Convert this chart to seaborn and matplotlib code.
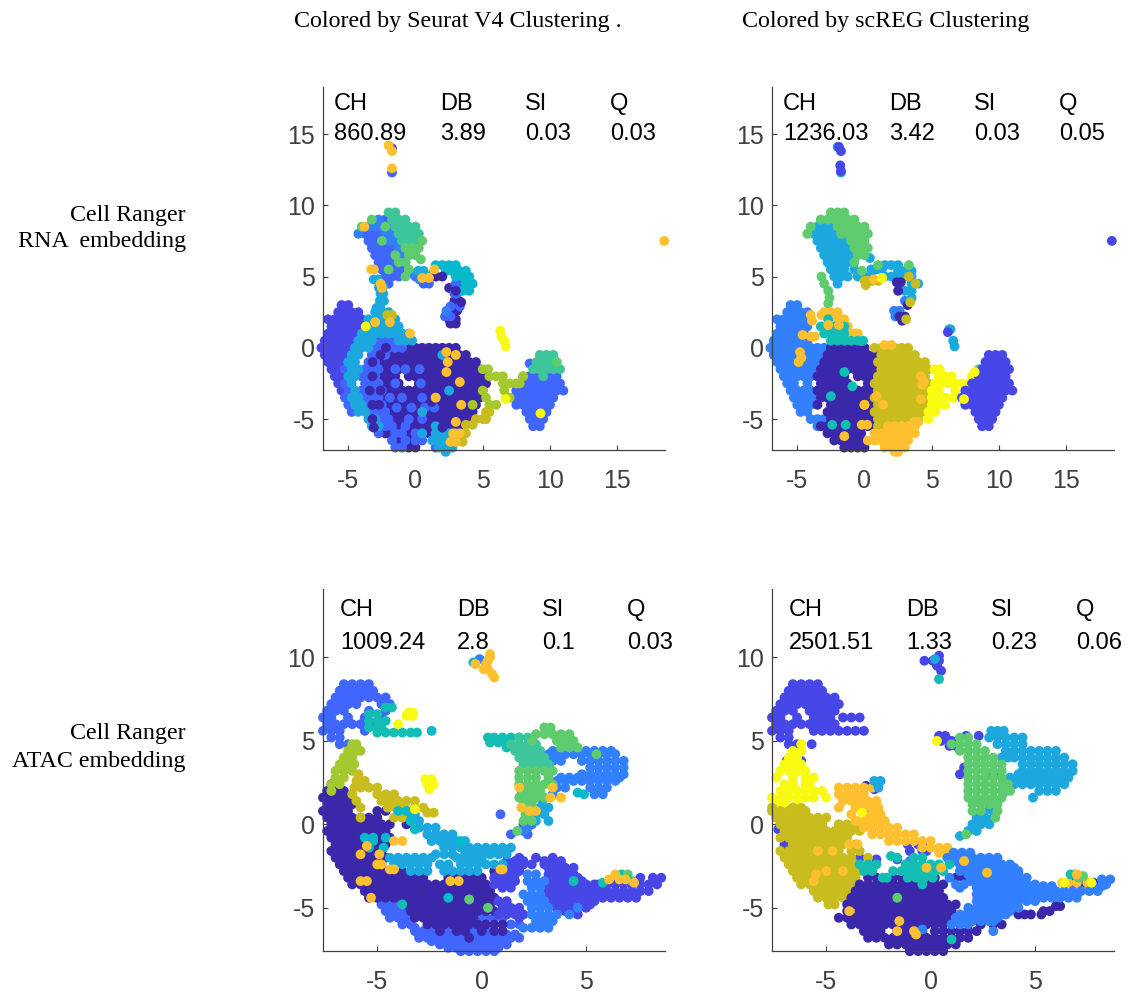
#scatter panels of the four embeddings, clusters
import pandas as pd
import matplotlib
matplotlib.use("Agg")
import matplotlib.pyplot as plt
import seaborn as sns

colors = {"dark": "#3B27A9", "violet": "#4747E8", "blue": "#4066FF", "azure": "#3380FF",
          "sky": "#1CA8DF", "cyan": "#05B9CA", "teal": "#12BDB4", "mint": "#3CC69A",
          "green": "#5FCB6F", "lime": "#A4C92E", "olive": "#C8BC1E", "orange": "#FEC02E",
          "yellow": "#F8FA0F"}

# ---------- RNA embedding, Seurat clusters, rows of (y, [x, ...])
p1_violet = [(3, [-5.5, -5]), (2.5, [-5.75, -5.25, -4.75, -4.25]), (2, [-6.5, -6, -5.5, -5, -4.5, -4]),
             (1.5, [-6.25, -5.75, -5.25, -4.75, -4.25, -3.75]), (1, [-6.5, -6, -5.5, -5, -4.5]),
             (.5, [-6.75, -6.25, -5.75, -5.25, -4.75]), (0, [-7, -6.5, -6, -5.5, -5]),
             (-.5, [-6.75, -6.25, -5.75, -5.25]), (-1, [-6.5, -6, -5.5]), (-1.5, [-6.25, -5.75]),
             (-2, [-6, -5.5]), (-2.5, [-5.75, -5.25]), (-3, [-5.5]), (14, [-1.75])]
p1_dark = [(0, [-.5, 0, .5, 1, 1.5, 2, 2.5, 3]),
           (-.5, [-1.75, -1.25, -.75, -.25, .25, .75, 1.25, 1.75, 2.25, 2.75, 3.25, 3.75]),
           (-1, [-2.5, -2, -1.5, -1, -.5, 0, .5, 1, 1.5, 2, 2.5, 3, 3.5, 4, 4.5]),
           (-1.5, [-2.25, -1.75, -1.25, -.75, -.25, .25, .75, 1.25, 1.75, 2.25, 2.75, 3.25, 3.75, 4.25, 4.75]),
           (-2, [-2.5, -2, -1.5, -.5, 0, .5, 1, 1.5, 2, 2.5, 3, 3.5, 4, 4.5, 5]),
           (-2.5, [-2.25, -1.75, -1.25, .25, .75, 1.25, 1.75, 2.25, 2.75, 3.25, 3.75, 4.25, 4.75, 5.25]),
           (-3, [-2, -1.5, -1, -.5, 0, .5, 1, 1.5, 2, 2.5, 3, 3.5, 4, 4.5, 5]),
           (-3.5, [-2.25, -1.75, -1.25, -.75, -.25, .25, .75, 1.25, 1.75, 2.25, 2.75, 3.25, 3.75, 4.25, 4.75]),
           (-4, [-2, -1.5, -1, -.5, 0, .5, 1, 1.5, 2, 2.5, 3, 3.5, 4, 4.5]),
           (-4.5, [-1.75, -1.25, -.75, -.25, .25, .75, 1.25, 1.75, 2.25, 2.75, 3.25, 3.75, 4.25]),
           (-5, [-3, -1.5, -1, -.5, 0, .5, 1, 1.5, 2, 2.5, 3, 3.5, 4]),
           (-5.5, [-2.75, -1.25, -.25, .25, .75, 1.25, 1.75, 2.25, 2.75, 3.25]),
           (-6, [-2.25, -2, -.5, 0, .5, 1, 1.5]), (-6.5, [-1.25, -.25]), (-7, [-.5, 0]),
           (5, [3.1]), (4.2, [2.5, 3]), (3.3, [2.9, 3.2]), (2.6, [2.9, 3.1]), (2, [2.5, 3]), (1.7, [2.6, 3])]
p1_blue = [(.5, [-2.75, -2.25, -1.75]), (0, [-3, -2.5, -2, -1.5, -1]), (-.5, [-3.25, -2.75, -2.25]),
           (-1, [-3.5, -3]), (-1.5, [-5.25, -3.75, -3.25, -2.75]), (-2, [-4, -3.5, -3]),
           (-2.5, [-5.25, -3.75, -3.25, -2.75]), (-3, [-5, -4, -3.5, -3, -2.5]),
           (-3.5, [-5.25, -4.75, -3.75, -3.25, -2.75]), (-4, [-5, -3.5, -3, -2.5]),
           (-4.5, [-4.75, -3.25, -2.75, -2.25]), (-5, [-2.5, -2, -.5, .5]), (-5.5, [-2.25, -1.75, -.75]),
           (-6, [-2.75, -1.5, -1, 0]), (-6.5, [-1.75, -.75, 0, .5]), (-7, [-1.5, -1, 1.5]),
           (-1.5, [-.75, .3, -1.5]), (-2.5, [-1.5, .4]), (-3.5, [-1, .5, -1.9]), (-4.2, [-1.4, -.3, .7, 1.4]),
           (12.3, [-1.75]), (9, [-2.25]), (8, [-3.75, -3.25, -2.75]), (7.5, [-3.5, -3, -2.5]),
           (7, [-3.25, -2.75, -2.25, -1.75]), (6.5, [-3, -2.5, -2, -1.5]), (6, [-2.75, -2.25, -1.75, -1.25]),
           (5.5, [-2.5, -2, -1.5, -1]), (5, [-2.25, -1.75, -1.25, 0, .5]), (4.5, [-2, .6, 1]),
           (4.5, [3.4, 3]), (3.8, [2.9, 3.1]), (2.9, [2.6, 3.3]), (2.2, [2.2, 2.6]), (-1.1, [8.5]),
           (-2, [8.5, 9, 9.5, 10, 10.5]), (-2.5, [8.25, 8.75, 9.25, 9.75, 10.25, 10.75]),
           (-3, [7.5, 8, 8.5, 9, 9.5, 10, 10.5, 11]), (-3.5, [7.25, 7.75, 8.25, 8.75, 9.25, 9.75, 10.25]),
           (-4, [7.5, 8, 8.5, 9, 9.5, 10]), (-4.5, [8.25, 8.75, 9.25, 9.75]), (-5, [8.5, 9, 9.5]), (-5.5, [8.75, 9.25])]
p1_azure = [(9, [-2.75]), (8.5, [-3.5, -3, -2.5, -2]), (8, [-4.25, -2.25, -1.75]), (7.5, [-2, -1.5]), (7, [-1.25]),
            (6.5, [-1, -.5]), (6, [-.75]), (5.2, [-.25, 1.3]), (4.8, [.3]), (2.6, [2.3]), (4.2, [-2.7])]
p1_sky = [(2.5, [-3, -2.5, -2]), (2, [-3.5, -3, -2.5, -2, -1.5]), (1.5, [-3.25, -2.75, -2.25, -1.75, -1.25]),
          (1, [-4, -3.5, -3, -2.5, -2, -1.5, -1, -.5]), (.5, [-4.25, -3.75, -3.25, -1.25, -.75, -.25]),
          (0, [-4.5, -4, -3.5]), (-.5, [-4.75, -4.25, 2]), (-1, [-5, -4.5]), (-1.5, [-4.75, -4.25]),
          (-2, [-5, -4.5]), (-2.5, [-4.75]), (-3, [-4.5, 2.5]), (-3.5, [-4.75, -4.25, 1.5]), (-4, [-4.5, -4]),
          (-4.5, [-4.25, -3.75, .5]), (-5, [-3.5, -3]), (-5.5, [-3.25, -2.75, 1.5]), (-6, [.5, 1.5, 2, 2.5, 3]),
          (-6.5, [1.25, 1.75, 2.25, 2.75, 3.25]), (-7, [1.75, 2.25, 2.75]), (-7.3, [2.25]),
          (2.8, [-2.9, -2.6]), (3.3, [-2.65, -2.35]), (3.8, [-2.6, -2.4]), (4.3, [-2.7, -2.4]), (4.8, [-3.1, -2.8]),
          (5.4, [.2, .6])]
p1_cyan = [(5.8, [1.5, 2, 2.5, 3]), (5.4, [2.25, 2.75, 3.25, 3.75]), (5, [3, 3.5, 4]), (4.5, [3.75, 4.25]), (4, [3.5, 4])]
p1_mint = [(9.5, [-2, -1.5]), (9, [-1.75, -1.25, -.75]), (8.5, [-1.5, -1, -.5, 0]), (8, [-1.25, -.75, -.25, .25]),
           (7.5, [-1, -.5, 0]), (-.5, [9.25, 9.75, 10.25]), (-1, [9, 9.5, 10, 10.5]),
           (-1.5, [8.75, 9.25, 9.75, 10.25, 10.75]), (-2, [8, 9.5])]
p1_green = [(9, [-3.25]), (8.5, [-4, -2.25]), (7.5, [.5, -2.5]), (7, [-.75, -.25, .25]), (6.5, [-1.5, -.5, 0]),
            (6, [-1.25, -.75]), (5.5, [-.5, -2]), (5, [-.75]), (6.2, [.4]), (-1, [10.5])]
p1_lime = [(-1.5, [5, 5.4]), (-2, [5.5, 6, 6.5, 8]), (-2.5, [6.5, 7, 7.5, 7.75]), (-3, [5, 6.6]), (-3.5, [5.25, 6.75, 7]),
           (-4, [5.5, 6, 4.25]), (5, [1.25, 1.6])]
p1_olive = [(-4.5, [5.5, 5.25]), (-5, [4.5, 5, 5.25]), (-5.4, [4.25, 3.75]), (-6, [3.75]), (2.3, [-1.75, -2.1]), (-6.6, [3.5])]
p1_dots = [(5, [2, 1.5]), (4, [3]), (3.2, [3.4]), (-5.6, [-3.1, 2]), (-3.8, [2.7, 1.2]), (-2.4, [2.1]), (-1.2, [1.4]),
           (-2, [-3.2]), (-3, [-3.4, -2.6]), (-4, [-3.2, -2.7]), (-1, [-3.2]), (-.5, [-2.6]), (0, [-2.2]), (-5, [-3.2])]
p1_orange = [(14.2, [-2]), (13.8, [-1.75]), (12.6, [-1.75]), (7.5, [18.5]), (5.5, [-3.3, -3.1, 1.4]), (4.9, [.5, 1]),
             (4.5, [-2.6]), (4.2, [-2.5]), (8.5, [-3.8]), (1.8, [-3, -1.9]), (1, [-.4]), (-.3, [2.3]), (-.5, [3]), (-1, [2.4]),
             (-1.7, [2.3]), (-2.4, [3.3]), (-3.5, [1.5]), (-4, [3.4]), (-5.2, [3]), (-6, [2.8, 3.3]), (-6.6, [2.6, 3])]
p1_yellow = [(1.2, [6.3]), (.8, [6.4]), (.5, [6.6]), (.1, [6.7]), (-3.6, [6.7]), (-4.6, [9.3]), (1.5, [-3.7])]

# ---------- RNA embedding, scREG clusters
p2_azure = [(3, [-5.5, -5]), (2.5, [-5.75, -5.25, -4.75, -4.25]), (2, [-6.5, -6, -5.5, -5, -4.5, -4]),
            (1.5, [-6.25, -5.75, -5.25, -4.75, -4.25]), (1, [-6.5, -6, -5.5, -5, -4.5]),
            (.5, [-6.75, -6.25, -5.75, -5.25, -4.75, -4.25]), (0, [-7, -6.5, -6, -5.5, -5, -4.5, -4, -3.5, -3]),
            (-.5, [-6.75, -6.25, -5.75, -5.25, -4.75, -4.25, -3.75, -3.25]),
            (-1, [-6.5, -6, -5.5, -5, -4.5, -4, -3.5]), (-1.5, [-6.25, -5.75, -5.25, -4.75, -4.25, -3.75]),
            (-2, [-6, -5.5, -5, -4.5, -4]), (-2.5, [-5.75, -5.25, -4.25]), (-3, [-5.5, -5, -4.5, -4]),
            (-3.5, [-5.25, -4.75, -4.25, -3.75]), (-4, [-5, -4.5, -4]), (-4.5, [-4.75, -4.25]), (-5, [-4, -3.5, -3]),
            (-5.5, [-3.5, -3]), (3.3, [3]), (2.6, [2.2, 2.6]), (2.2, [2.3])]
p2_sky = [(14.1, [-2]), (12.3, [-1.75]), (8.5, [-3.5, -3, -2.5]), (8, [-3.75, -3.25, -2.75, -2.25]),
          (7.5, [-3.5, -3, -2.5, -2, -1.5]), (7, [-3.25, -2.75, -2.25, -1.75, -1.25]), (6.5, [-3, -2.5, -2, -1.5, -1]),
          (6, [-2.75, -2.25, -1.75, -1.25]), (5.5, [-2.5, -2, -1.5, -.75, .5, .9, 1.3]),
          (5, [-2.25, -1.75, -1.25, -.5, 0, .5, 1.5, 2, 2.5, 3, 3.5]), (4.5, [-2, 3.5, 4]), (4, [3.5, 3]), (3.5, [3.5]),
          (1.3, [6.3, 6.4]), (.5, [6.6]), (.1, [6.7]), (6.3, [.4]), (5.8, [1.5, 2, 2.5]), (5.4, [2.5, 3, 3.5])]
p2_green = [(9.5, [-2.5, -2, -1.5]), (9, [-3.25, -2.75, -2.25, -1.75, -1.25, -.75]), (8.5, [-4, -2, -1.5, -1, -.5, 0]),
            (8, [-4.25, -1.75, -1.25, -.75, -.25, .25]), (7.5, [-1, -.5, 0]), (7, [-.75, -.25, .25]), (6.5, [-.5, 0]),
            (6, [-.75]), (5.8, [1, 3.3]), (5.4, [-.2]), (5, [-3.2]), (4.5, [-3]), (4, [-2.7]), (3.5, [-2.6]), (3.1, [-2.7]),
            (-1.5, [8.5])]
p2_dark = [(.25, [-2.3, -1.8]), (0, [-2.5, -2, -1.5, -1, -.5, 0]), (-.5, [-2.75, -2.25, -1.75, -1.25, -.75, -.25, .25, .75]),
           (-1, [-3, -2.5, -2, -1.5, -1, -.5, 0, .5]), (-1.5, [-3.25, -2.75, -2.25, -1.75, -1.25, -.75, -.25, .25, .75]),
           (-2, [-3.5, -3, -2.5, -2, -1.5, -.5, 0, .5]), (-2.5, [-3.25, -2.75, -2.25, -1.75, -1.25, .25]),
           (-3, [-3.5, -3, -2.5, -2, -1.5, -1, -.5, 0, .5]), (-3.5, [-3.25, -2.75, -2.25, -1.75, -1.25, -.75, -.25, .25]),
           (-4, [-3.5, -2.5, -2, -1.5, -1, -.5, 0, .5]), (-4.5, [-2.75, -2.25, -1.75, -1.25, -.75, -.25, .25]),
           (-5, [-2.5, -2, -1.5, -1, -.5, 0, .5]), (-5.5, [-3.25, -2.75, -2.25, -1.75, -1.25, -.75, -.25, .25, .75, 1.25]),
           (-6, [-2.75, -2.25, -1.75, -1.25, -.75, -.25]), (-6.5, [-2.25, -1.75, -1.25, -.75, -.25]),
           (-7, [-1.5, -1, -.5, 0]), (4.6, [2.4, 2.7]), (4, [2.5]), (3, [3.2]), (2.2, [2.6, 3]), (1.9, [2.8])]
p2_olive = [(0, [.75, 1.25, 1.75, 2.25, 2.75, 3.25]), (-.5, [1.25, 1.75, 2.25, 2.75, 3.25, 3.75]),
            (-1, [1, 1.5, 2, 2.5, 3, 3.5, 4, 4.5]), (-1.5, [1.25, 1.75, 2.25, 2.75, 3.25, 3.75, 4.25, 4.75]),
            (-2, [1, 1.5, 2, 2.5, 3, 3.5, 4, 4.5]), (-2.5, [.75, 1.25, 1.75, 2.25, 2.75, 3.25, 3.75, 4.25, 4.75]),
            (-3, [1, 1.5, 2, 2.5, 3, 3.5, 4, 4.5, 5]), (-3.5, [.75, 1.25, 1.75, 2.25, 2.75, 3.25, 3.75, 4.25, 4.75]),
            (-4, [1, 1.5, 2, 2.5, 3, 3.5, 4, 4.5]), (-4.5, [.75, 1.25, 1.75, 2.25, 2.75, 3.25, 3.75, 4.25]),
            (-5, [1, 1.5, 2, 2.5, 3, 3.5, 4]), (-5.5, [1, 1.5, 2.25]), (4.7, [0, .3, .6, 1]), (4.4, [.1]), (3.2, [3.4]),
            (2, [3.1]), (4.5, [3.8]), (5, [3.3])]
p2_orange = [(2.5, [-3, -2.5, -2]), (2, [-2, -1.5]), (1.5, [-1.75, -1.25]), (1, [-1, -.5, -.7]), (.5, [-.25]), (2.3, [-4, -3.2]),
             (.9, [-4.6]), (-.3, [-4.8]), (.2, [1.5, 2]), (-5.2, [4, 3.7]), (-5.5, [1.75, 2.25, 2.75, 3.25, 3.75]),
             (-6, [.75, 1.25, 1.75, 2.25, 2.75, 3.25, 3.75]), (-6.5, [.25, .75, 1.25, 1.75, 2.25, 2.75, 3.25]), (-7, [1.5, 2, 2.5, 3]),
             (-7.3, [2.25, 2.5]), (-2.4, [4.4]), (-4, [0]), (4.8, [.7])]
p2_yellow = [(-1.5, [5.2, 5.6]), (-2, [5.5, 6, 6.5, 8]), (-2.5, [5.25, 5.75, 6.25, 6.75, 7.25, 7.75]), (-3, [5, 5.5, 6.75]),
             (-3.5, [5, 5.5, 6, 6.6, 7.4]), (-4, [5, 5.5, 6]), (-4.5, [4.75, 5.25]), (-5, [4.75]), (4.9, [1.3])]
p2_violet = [(14.1, [-1.9]), (13.8, [-1.75]), (12.8, [-1.8]), (12.4, [-1.75]), (7.5, [18.4]), (-.5, [9.25, 9.75, 10.25]),
             (-1, [9, 9.5, 10, 10.5]), (-1.5, [8.75, 9.25, 9.75, 10.25, 10.75]), (-2, [8.5, 9, 9.5, 10, 10.5]),
             (-2.5, [8, 8.25, 8.75, 9.25, 9.75, 10.25, 10.75]), (-3, [7.5, 8, 8.5, 9, 9.5, 10, 10.5, 11]),
             (-3.5, [7.25, 7.75, 8.25, 8.75, 9.25, 9.75, 10.25]), (-4, [7.5, 8, 8.5, 9, 9.5, 10]),
             (-4.5, [8.25, 8.75, 9.25, 9.75]), (-5, [8.5, 9, 9.5]), (-5.5, [8.75, 9.25]), (1.1, [6.2])]
p2_teal = [(1.5, [-3.25, -2.25, -1.5]), (1, [-3, -2.5, -2, -1.5]), (.5, [-2.5, -2, -1.5, -1, -.5, -.1]), (-1.7, [-1.5]),
           (-2.7, [-.9]), (-3.4, [-2.5]), (-5.4, [-2.4, -1.4]), (2, [-2.7])]
p2_dots = [(1.9, [-3.9]), (1.6, [-2.7, -1.9]), (.8, [-4, -3.7]), (-.7, [-4.7]), (-1, [-4.9]), (-2, [4.2]), (-3.4, [.9]),
           (-4, [0, 1.4]), (-5.4, [-.2, .2]), (-6.2, [-1.5]), (-2.6, [4.3]), (-3.6, [4.2])]
p2_last = [(-3.6, [7.4]), (4.9, [1.3]), (-1.7, [8.2])]

# ---------- ATAC embedding, Seurat clusters
p3_blue = [(8.4, [-6.6, -6.2, -5.8, -5.4]), (8, [-6.8, -6.4, -6, -5.6, -5.2]), (7.6, [-7, -6.6, -6.2, -5.8, -5.4, -5, -4.6]),
           (7.2, [-7.2, -6.8, -6.4, -6, -4.8, -4.4]), (6.8, [-7.4, -7, -6.6, -5.4, -4.6]), (6.4, [-7.6, -7.2, -6.4, -5.6, -4.8]),
           (6, [-7.4, -7, -6.6, -6.2, -5.8, -5.4, -5]), (5.6, [-7.6, -7.2, -6.8, -5.6]), (5.2, [-7.2, -6.8]), (4.8, [-6.8, -6.4]),
           (-4.8, [-4.8, -4.4, -4]), (-5.2, [-4.6, -4.2, -3.8, 1.2, 1.4]), (-5.6, [-4.4, -4, -3.6, 0, .2, .6, 1]),
           (-6, [-3.8, -3.4, 1.4, 1.8]), (-6.2, [-3.2, -2.6, -1.8]), (-6.4, [-3.2, -2.8, -2.4, -1.6, -.4, .2]),
           (-6.6, [-2.8, -2.2, -1.6, -1.2, -.6, -.2, .4, .8, 1.2, 1.6]),
           (-6.8, [-3, -2.6, -2.2, -1.8, -1.4, -1, -.2, .2, .6, 1, 1.4, 1.8]),
           (-7, [-2.4, -2, -1.6, -1.2, -.8, -.4, 0, .4, .8, 1.2]),
           (-7.2, [-2, -1.6, -1.2, -.8, -.4, 0, .4, .8, 1.2]), (-7.4, [-1.6, -1.2, -.8, -.4, 0, .4, .8]),
           (-7.6, [-1, -.6, -.2, .2, .6]), (.6, [.9]), (-.6, [1.4, 2.2]), (0, [2, 2.4])]
p3_dark = [(2.4, [-7.2]), (2, [-7.4, -7, -6.6]), (1.6, [-7.6, -7.2, -6.8, -6.4]), (1.2, [-7.4, -7, -6.6, -6.2]),
           (.8, [-7.6, -7.2, -6.8, -6.4, -5, -4.6]), (.4, [-7.4, -7, -6.6, -6.2, -5.8, -5.4, -5]),
           (0, [-7.2, -6.8, -6.4, -6, -5.6, -5.2, -4.8, -4.4, -3.6]), (-.4, [-7.4, -7, -6.6, -6.2, -5.8, -5.4, -5, -4.6]),
           (-.8, [-7.2, -6.8, -6.4, -6, -5.6, -5.2, -4.8, -4.4]), (-1.2, [-7, -6.6, -6.2, -5.8, -5.4, -5, -4.6]),
           (-1.6, [-7.2, -6.8, -6.4, -6, -5.6, -5.2, -4.8]), (-2, [-7, -6.6, -6.2, -5.8, -5.4, -5, -4.6]),
           (-2.4, [-6.8, -6.4, -6, -5.6, -5.2, -4.8]), (-2.8, [-6.6, -6.2, -5.8, -5.4, -5, -4.6, -4.2, -3.8, .6]),
           (-3.2, [-6.4, -6, -5.6, -5.2, -4.8, -4.4, -4, -3.6, -3.2, -2.8, -1.6, -1.2, -.8, -.4, 0]),
           (-3.6, [-6.2, -5.8, -5.4, -5, -4.6, -4.2, -3.8, -3.4, -3, -2.6, -2.2, -1.8, -1.4, -1, -.6, -.2, .2]),
           (-4, [-5.6, -5.2, -4.8, -4.4, -4, -3.6, -3.2, -2.8, -2.4, -2, -1.6, -1.2, -.8, -.4, 0, .4]),
           (-4.4, [-5.4, -5, -4.6, -4.2, -3.8, -3.4, -3, -2.6, -2.2, -1.8, -1.4, -1, -.6, -.2, .2, .6]),
           (-4.8, [-3.6, -3.2, -2.8, -2.4, -2, -1.6, -1.2, -.8, -.4, 0, .4]),
           (-5.2, [-3.4, -3, -2.6, -2.2, -1.8, -1.4, -1, -.6, -.2, .2, .6]),
           (-5.6, [-3.2, -2.8, -2.4, -2, -1.6, -1.2, -.8, -.4]),
           (-6, [-2.6, -2.2, -1.8, -1.4, -1, -.6, -.2, .2, .6, 1]), (-6.4, [-2, -1.2, -.8, 0, .6, 1]), (-6.8, [-.6])]
p3_violet = [(-2.2, [1.2, 1.6, 2, 3, 3.4, 3.8]), (-2.4, [1.6, 2, 2.4, 3, 3.4, 3.8]), (-2, [1.8, 2.6, 3.4]),
             (-2.6, [1.4, 1.8, 3.2, 3.6, 4, 4.4]), (-2.8, [1.4, 1.8, 3.4, 3.8, 4.2]),
             (-3, [.8, 1.2, 1.6, 3.2, 3.6, 4, 4.4]), (-3.2, [.6, 1, 1.4, 3.4, 3.8, 4.2, 4.6]),
             (-3.4, [.8, 1.2, 1.6, 3.2, 3.6, 4, 4.4, 4.8]), (-3.6, [.6, 1, 3.4, 3.8, 4.2, 4.6, 5, 5.4]),
             (-3.8, [1, 1.4, 3.2, 5, 5.4, 5.8]), (-4, [3.2, 3.6, 4, 4.4, 4.8, 5.2, 5.6, 6, 6.4, 6.8, 7.2, 7.6, 8]),
             (-4.2, [3.2, 3.6, 4, 4.4, 4.8, 5.2, 5.6, 6, 6.4, 6.8, 7.2]),
             (-4.4, [3.4, 3.8, 4.2, 4.6, 5, 5.4, 5.8, 6.2, 6.6, 7, 7.4]), (-4.6, [.8, 1.2, 3.4, 3.8, 4.2, 4.6, 5, 5.4]),
             (-4.8, [1.2, 3.6, 4, 4.4, 4.8, 5.2]), (-5, [1, 1.4, 1.8, 3.6, 4, 4.4, 5]), (-5.2, [4, 4.4]),
             (-3.6, [5.6, 6, 6.4, 6.8, 7.2, 7.6, 8, 8.4]), (-3.2, [8.2, 8.6, 7.6]), (-5.4, [.8, 1.2, 1.6, 2, 4.6]), (-5.6, [1.8])]
p3_azure = [(-3, [2.2, 2.6]), (-3.4, [2.2, 2.6, 3]), (-3.8, [2.4, 2.8]), (-4.2, [2, 2.4, 2.8]), (-4.6, [2.2, 2.6, 3]),
            (-5, [2.4, 2.8, 3.2, 4.6]), (-5.4, [2.4, 2.8, 3.2, 3.6, 4.2]), (-5.8, [2.6, 3, 3.4]), (-6.2, [2, 2.4, 2.8, 3.2]),
            (4.4, [3.4, 3.8, 4.2, 4.6, 5, 5.4, 5.8, 6.2]), (4.2, [3.2, 3.6, 4, 4.4, 4.8, 5.2, 5.6, 6, 6.4]),
            (3.8, [3.4, 3.8, 4.8, 5.2, 5.6, 6, 6.4, 6.8]), (3.4, [5.2, 5.6, 6, 6.4, 6.8]),
            (3, [4.8, 5.2, 5.6, 6, 6.4, 6.8]), (2.8, [3.8, 4.2, 4.6, 5, 5.4, 5.8, 6.2, 6.6]),
            (2.6, [3.6, 4, 4.4, 4.8, 5.2, 5.6, 6, 6.4]), (2.2, [3.6, 4, 5.2, 5.6, 6]), (1.8, [3.4, 5.4, 5.8]),
            (-.2, [2.2]), (-.4, [2]), (9.9, [-.1])]
p3_sky = [(.6, [-3.6, -3.2]), (.2, [-3.4, -3]), (-.2, [-3, -2.6, -2.2]), (-.6, [-2.6, -2.2, -1.8, -1.4]), (-1, [-2.4, -2, -1.6, -1.2, -.8]),
          (-1.4, [-1.8, -1.4, -1, -.6, -.2, .2, .6, 1, 1.4]), (-1.8, [-2.2, -1.8, -1.4, -.8, -.4, 0, .4, .8, 1.2]),
          (-2, [-4.4, -4, -3.6, -3.2, -2.8, -2.4, -1.2, -.8, -.4, 0]),
          (-2.4, [-4.2, -3.8, -3.4, -3, -2.6, -2, -1.6, -1, -.6, -.2, .2, .6, 1]), (-2.8, [-3.4, -3, -2.6, -1.8, -1.4, -1, -.6, -.2]),
          (1.8, [1.9]), (1.4, [2.4, 2.9]), (1, [2.8, 3.2]), (.6, [2.6, 3]), (.2, [2.6, 3.2])]
p3_teal = [(7, [-4.6, -4.3]), (6.6, [-5.4, -5]), (6.2, [-5.4, -5, -4.6]), (5.8, [-5.4, -5, -4.8]),
           (5.5, [-5, -4.6, -4.2, -3.8, -3.4, -3.1]), (5.2, [.3, .6, 1, 1.4, 1.8]), (4.9, [.4, .8, 1.2]), (4.6, [1.2, 1.6]),
           (-3, [6.7]), (-3.5, [5.8]), (-3.4, [4.4]), (-4.8, [-3.8]), (-1, [-5.2])]
p3_mint = [(5.2, [1.8, 2.2]), (4.8, [1.4, 1.8, 2.2, 2.6]), (4.4, [1.6, 2, 2.4, 2.8]), (4, [1.8, 2.2, 2.6, 3]), (3.6, [2, 2.4, 2.8, 3.2])]
p3_green = [(5.8, [3, 3.3]), (5.4, [2.6, 3, 3.4, 3.8, 4.2]), (5, [2.4, 3.6, 4, 4.4]), (4.6, [3.8, 4.2, 4.6]), (3.2, [1.8, 2.2, 2.6, 3, 3.4]),
            (2.8, [1.8, 2.2, 2.6, 3.2]), (2.4, [1.8, 2.2, 2.6, 3, 3.4]), (2, [2, 2.4, 2.8]), (1.6, [1.8, 2.2, 2.6, 3]), (1.2, [2, 2.4]), (.6, [2.1, 2.3]),
            (.2, [2, 2.4]), (-.4, [1.7]), (4.2, [5.5]), (-3, [7]), (-4.5, [-.6]), (-5, [.3]), (-3.4, [7.2])]
p3_lime = [(4.8, [-6.2, -6]), (4.4, [-6.4, -6, -5.8]), (4, [-6.6, -6.2]), (3.6, [-6.8, -6.4, -6.1]), (3.2, [-7, -6.6, -6.2]),
           (2.8, [-7, -6.6]), (2.4, [-6.8, -7.2]), (2, [-7.2])]
p3_olive = [(3, [-5.9]), (2.6, [-6, -5.6]), (2.2, [-5.8, -5.4, -5, -6.1]), (1.8, [-6.2, -5, -4.6, -4.2]),
            (1.4, [-6, -4.8, -4.4, -4, -3.6, -3.2]), (1, [-5.8, -4.5, -4.1, -3.7, -3.2, -2.8]), (.7, [-2.6, -2.3]), (.4, [-4.2, -3.8, -5.8])]
p3_dots = [(9.7, [-.4]), (5.6, [-2.4]), (1.9, [4.6]), (1.8, [4.9]), (.8, [-4, -3.6]), (.2, [-3.4]), (-.3, [-3.2]), (-.8, [-5.6, -5.2, -4.6]),
           (-1.4, [-5.4, -4.7]), (-1, [-1]), (-3.3, [7]), (-4.4, [-1.6])]
p3_orange = [(9.6, [-.3, .2]), (9.3, [.1, .3]), (9.8, [.3]), (10, [.4]), (10.2, [.4]), (9, [.5]), (8.8, [.6]), (-1, [-4.2, -3.8]),
             (-1.8, [-5.8, -4.9]), (-1.3, [-5.5]), (-2.4, [-5, -4.8]), (-2.7, [-4.4, -4.2]), (-3.4, [-5.8, -5.5, -1.5, -1.1]), (-4.4, [-5.3]),
             (-3, [6.4]), (-3.3, [6.1, 6.6, 6.9]), (2.2, [3.4, 1.8]), (1.6, [3.3, 3.8]), (.8, [2.3, 2.6]), (-2.7, [.9, 1]), (-3.5, [7.3]), (1, [1.9])]
p3_yellow = [(6.7, [-3.5, -3.3]), (6.5, [-3.6, -3.3]), (6, [-4]), (2.7, [-2.7, -2.4]), (2.4, [-2.6, -2.3]), (2.1, [-2.5]), (.9, [-3.2])]

# ---------- ATAC embedding, scREG clusters
p4_violet = [(8.4, [-6.6, -6.2, -5.8, -5.4]), (8, [-6.8, -6.4, -6, -5.6, -5.2]), (7.6, [-7, -6.6, -6.2, -5.8, -5.4, -5, -4.6]),
             (7.2, [-7.2, -6.8, -6.4, -6, -5.6, -5.2, -4.8, -4.4]), (6.8, [-7.4, -7, -6.6, -5.8, -5.4, -5, -4.6]),
             (6.4, [-7.6, -7.2, -6.4, -5.6, -5.2, -4.8, -4.2, -3.8, -3.4]), (6, [-7.4, -7, -6.6, -6.2, -5.8, -5.4, -5, -4.6]),
             (5.6, [-7.6, -7.2, -6.8, -5.6, -5.2, -4.8, -4.4, -4, -3.6, -3.2]), (5.2, [-7.2, -6.8]), (4.8, [-6.8, -6.4, -5.7]), (3.8, [-6.9, -6.2]),
             (.9, [-3]), (-.3, [-7.3]), (-1.2, [-7, -1.1, -.6, -.2]), (-1, [-5.2, -4.8]), (2.1, [-2.7]), (-2, [-3.4]),
             (9.8, [-.3, .1, .4]), (9.5, [.3]), (9.2, [.5]), (10.1, [.4]), (5.3, [.4, .7, 1.7, 2.3]), (5, [.5, .9, 1]), (4.7, [.9, 1.2]), (3, [1.4, 3]),
             (3.4, [1.6]), (-1.6, [-1, -.4, -.2]), (-2.1, [-2.6, -1.6])]
p4_yellow = [(4.8, [-6.2]), (4.4, [-6.6, -6.2]), (4, [-6.8, -6.4, -6.7]), (3.6, [-7, -6.6, -6.2]), (3.2, [-7.2, -6.8, -6.4, -6]),
             (2.8, [-7.4, -6.6, -6, -5.6]), (2.4, [-7, -6.6, -6, -5.8]), (2, [-7.2, -6.8, -6.4, -6, -5.6, -5.2]),
             (1.6, [-7.6, -7.2, -6.8, -6.4, -6, -5.6, -5]), (1.2, [-7.4, -7, -6.4]), (5, [.3]), (2.1, [-3.3])]
p4_olive = [(1, [-6.6, -6.2, -7.6]), (.8, [-7.6, -7.2, -6.8, -6.4, -6]), (.4, [-7.4, -7, -6.6, -6.2, -5.8, -5.4, -5]),
            (0, [-7.2, -6.8, -6.4, -6, -5.6, -5.2, -4.4, -4, -3.6, -3.2]), (-.4, [-7, -6.6, -6.2, -5.8, -5.4, -5, -4.6, -4.2, -3.8, -3.4]),
            (-.8, [-7.2, -6.8, -6.4, -6, -5.6, -5.2, -4.8, -4.4, -4]), (-1.2, [-6.6, -6.2, -5.8, -5.4, -5, -4.6, -4.2, -3.6]),
            (-1.6, [-7.2, -6.8, -6.4, -6, -5.6, -5.2, -4.8, -4.4, -3.8, -3.4]), (-2, [-7, -6.6, -6.2, -5.8, -5.4, -5, -4.6, -4.2, -3.8, -3]),
            (-2.4, [-6.8, -6.4, -6, -5.6, -5.2, -4.8, -4.4, -4, -3.6]), (-2.8, [-6.6, -6.2, -5.8, -5.4, -5, -4.6, -4.2, -3.8, -3.4]),
            (-3.2, [-6.4, -6, -5.6, -5.2, -4.8, -4.4, -4, -3.6]), (-3.6, [-6.2, -5.8, -5.4, -5, -4.6, -4.2, -3.8]), (-4, [-5.6, -5.2, -4.8, -4.4, -4]),
            (-4.4, [-5.4, -5, -4.6, -4.2]), (-4.8, [-4.6, -4.9]), (-5.2, [-3.8])]
p4_dark = [(-3.2, [-3, -2.6, -1.8, -1.4, -1, -.6, -.2, .2, 1.2, 1.6]), (-3.6, [-3.4, -3, -2.6, -2.2, -1.8, -1.4, -1, -.6, -.2, .2, .6]),
           (-4, [-3.6, -3.2, -2.8, -2.4, -2, -1.6, -1.2, -.8, -.4, 0, .4]), (-4.4, [-3.8, -3.4, -3, -2.6, -2.2, -1.8, -1.4, -1, -.6, -.2, .2, .6]),
           (-4.8, [-4, -3.6, -3.2, -2.8, -2.4, -2, -1.6, -1.2, -.8, -.4, 0, .4, .8, 1.2]), (-5.2, [-4, -3.4, -3, -2.6, -2.2, -1.8, -1.4, -1, -.6, -.2, .2, .6, 1, 5.4, 5.7]),
           (-5.6, [-4.4, -4, -3.6, -3.2, -2.8, -2.4, -2, -1.6, -1.2, -.8, -.4, 0, .4, .8]),
           (-6, [-3.8, -3.4, -3, -2.6, -2.2, -1.8, -1.4, -1, -.6, -.2, .2, .6, 2.4, 3, 3.4]), (-6.4, [-3.2, -2.8, -2.4, -1.6, -1.2, -.8, -.4, .2, .6, 1, 1.4, 1.8, 2.2]),
           (-6.8, [-3, -2.6, -2.2, -1.8, -1.4, -1, -.6, -.2, .2, .6, 1, 1.4, 1.8]), (-7.2, [-2, -1.6, -1.2, -.8, -.4, 0, .4, .8, 1.2]), (-7.6, [-1, -.6, -.2, .2, .6]),
           (-5.4, [4.2, 4.5, 4.8, 5.3]), (-4.9, [3.3, 6, 6.2]), (-3.5, [6.8, 7.1, 7.4, 7.8]), (2.3, [-3.1])]
p4_orange = [(2.2, [-4.4, -4, -3.6, -3.2, -2.8]), (1.8, [-4.4, -4, -3.6, -3.2]), (1.4, [-4.2, -3.8, -3.4, -3, -2.6]), (1, [-4.4, -3.6, -3.2, -2.8, -2.5]),
             (.6, [-3.8, -3.2, -2.8, -2.4]), (.2, [-3.4, -3, -2.6, -2.2, -3.6]), (-.2, [-3.2, -2.8, -2.4, -2, -1.6]), (-.6, [-2.8, -2.4, -2, -1.6, -1.2, -.8]),
             (-1, [-2, -1.6, -1.2, -.8, -.4, 0]), (-1.4, [-.4, 0, .4, .8]), (-1.7, [.4, .7, 1]), (-3.5, [6.3, 6.6, 7, 7.5]), (-2.6, [2.1, 1.9]), (-3, [2.3])]
p4_azure = [(-1.7, [1.1, 1.5, 1.9]), (-2, [.8, 1.2, 1.6, 2, 2.4, 2.8, 3.2]), (-2.4, [1.4, 1.8, 2.2, 2.6, 3, 3.4, 3.8]), (-2.6, [1.6, 2, 2.4, 2.8, 3.2, 3.6, 4]),
            (-2.8, [1.4, 1.8, 2.2, 2.6, 3, 3.4, 3.8, 4.2]), (-3, [1.8, 2.2, 2.6, 3, 3.4, 3.8, 4.2]), (-3.2, [.9, 2.2, 2.6, 3, 3.4, 3.8, 4.2, 4.6]),
            (-3.4, [1.9, 2.4, 2.8, 3.2, 3.6, 4, 4.4]), (-3.6, [1.2, 1.6, 2.2, 2.6, 3, 3.4, 3.8, 4.2, 4.6, 5, 8.4]),
            (-3.8, [1.4, 2.2, 2.6, 3, 3.4, 3.8, 4.2, 4.6]), (-4, [2.4, 2.8, 3.2, 3.6, 4, 4.4, 4.8, 5.2, 5.6, 6, 6.4, 6.8, 7.2, 7.6, 8]), (-3.3, [8.2, 8.6]), (-3.7, [5.4, 5.8, 7.8, 8.2]),
            (-4.2, [2.2, 2.6, 3, 3.4, 3.8, 4.2, 4.6, 5, 5.4, 5.8, 6.2]), (-4.4, [2.4, 2.8, 3.4, 3.8, 4.2, 5, 5.4, 5.8, 6.2, 6.6, 7]),
            (-4.6, [2.2, 2.6, 3, 3.4, 3.8, 4.2, 4.6, 5]), (-4.8, [2.4, 2.8, 3.2, 3.6, 4]), (-5, [1.8, 2.2, 2.6, 3, 3.4, 3.8, 4.2]), (-5.2, [1.8, 2.2, 2.6, 3, 3.4, 3.8]),
            (-5.4, [1.4, 1.8, 2.2, 2.6, 3, 3.4, 3.6]), (-5.6, [1.2, 1.6, 2, 2.4, 2.8, 3.2]), (-5.8, [1.2, 1.6, 2, 2.4, 2.8, 3]), (-6, [1, 1.4, 1.8]), (-6.4, [3]), (-2.2, [-1, 1.1]), (-6.3, [-.4])]
p4_sky = [(5.6, [2.9, 3.2, 3.5]), (5.2, [2.8, 3.2, 3.6, 4, 4.4]), (4.8, [3.2, 3.6, 4, 4.4]), (4.4, [3.6, 4, 4.4, 4.8, 5.2, 5.6, 6]),
          (4, [3.4, 3.7, 4, 4.4, 4.8, 5.2, 5.6, 6, 6.4]), (3.6, [4.4, 4.8, 5.2, 5.6, 6, 6.4, 6.8]), (3.2, [4.4, 4.8, 5.2, 5.6, 6, 6.4, 6.8]),
          (3, [4.2, 4.6, 5, 5.4, 5.8, 6.2, 6.6]), (2.8, [3.8, 4.2, 4.6, 5, 5.4, 5.8, 6.2, 6.6]), (2.4, [3.5, 4, 4.4, 4.8, 5.2, 5.6, 6, 6.4]), (2, [3.4, 3.6, 5.2, 5.6, 6]), (1.6, [4.9]),
          (2.6, [-2.7, -2.4]), (2.2, [-2.5]), (.9, [2.8]), (.4, [2.2, 2.6, 3]), (0, [2, 2.4, 2.8]), (-.4, [1.8, 2.2]), (-.7, [1.4]), (9.9, [.2])]
p4_green = [(5.2, [1.4, 1.8]), (4.8, [1, 1.4, 1.8, 2.2]), (4.4, [1.4, 1.8, 2.2, 2.6]), (4, [1.8, 2.2, 2.6, 3]), (3.6, [1.8, 2.2, 2.6, 3, 3.4]),
            (3.2, [1.8, 2.2, 2.6, 3, 3.4]), (2.8, [1.8, 2.2, 2.6, 3, 3.4]), (2.4, [1.8, 2.2, 2.6, 3, 3.4, 3.7]), (2, [1.8, 2.2, 2.6, 3, 3.4, 3.8]),
            (1.6, [1.8, 2.2, 2.6, 3, 3.4]), (1.2, [2, 2.4, 2.8, 3.2]), (.8, [2, 3.2, 2.4]), (.4, [3.1]), (-.6, [1.7]), (-3, [6.9]), (-3.2, [7.1]), (-4.4, [-1.6]), (-3.1, [7.3])]
p4_teal = [(-2, [-1.6, -.8, -.4]), (-2.4, [-3.4, -3, -2.6, -1.2, -.8, -.4, 0, .4, .9]), (-2.8, [-3.2, -2.8, -1.8, -1.4, -1, -.6, -.2, .2, .6]),
           (-3.2, [-2.3, -2.1, -1.1, -.7, -.3, .1]), (-3.6, [-.4]), (8.7, [.4]), (-3, [6.7]), (-1.9, [-1.9]), (-6.9, [1])]
p4_dots = [(-1.2, [-3.9, -3.5]), (-1.6, [-5.4, -4.7]), (-3, [-5.5]), (-2.8, [-5, -4.2]), (-5.2, [-3.9]), (-2.6, [-.2, .5]), (-2.2, [1.6]), (-3.4, [-5.6]),
           (-5.8, [-1.5]), (-6.6, [-.7]), (-6.4, [-1.6, -.8]), (-2.9, [2.7]), (-3, [7])]
p4_last = [(-3.5, [6.4, 7.7]), (.7, [-3.3])]

seurat_rna = [("violet", p1_violet), ("dark", p1_dark), ("blue", p1_blue), ("azure", p1_azure), ("sky", p1_sky),
              ("cyan", p1_cyan), ("mint", p1_mint), ("green", p1_green), ("lime", p1_lime), ("olive", p1_olive),
              ("dark", p1_dots), ("orange", p1_orange), ("yellow", p1_yellow)]
screg_rna = [("azure", p2_azure), ("sky", p2_sky), ("green", p2_green), ("dark", p2_dark), ("olive", p2_olive),
             ("orange", p2_orange), ("yellow", p2_yellow), ("violet", p2_violet), ("teal", p2_teal),
             ("orange", p2_dots), ("yellow", p2_last)]
seurat_atac = [("blue", p3_blue), ("dark", p3_dark), ("violet", p3_violet), ("azure", p3_azure), ("sky", p3_sky),
               ("teal", p3_teal), ("mint", p3_mint), ("green", p3_green), ("lime", p3_lime), ("olive", p3_olive),
               ("cyan", p3_dots), ("orange", p3_orange), ("yellow", p3_yellow)]
screg_atac = [("violet", p4_violet), ("yellow", p4_yellow), ("olive", p4_olive), ("dark", p4_dark), ("orange", p4_orange),
              ("azure", p4_azure), ("sky", p4_sky), ("green", p4_green), ("teal", p4_teal), ("orange", p4_dots),
              ("yellow", p4_last)]

stats_head = ["CH", "DB", "SI", "Q"]
stats_seurat_rna = ["860.89", "3.89", "0.03", "0.03"]
stats_screg_rna = ["1236.03", "3.42", "0.03", "0.05"]
stats_seurat_atac = ["1009.24", "2.8", "0.1", "0.03"]
stats_screg_atac = ["2501.51", "1.33", "0.23", "0.06"]

W, H = 1128, 996
sns.set_style("white")
plt.rcParams["font.family"] = ["Liberation Sans", "DejaVu Sans"]


def to_frame(layers):
    rows = []
    for name, points in layers:
        for y, xs in points:
            for x in xs:
                rows.append((x, y, name))
    return pd.DataFrame(rows, columns=["x", "y", "cluster"])


def panel(layers, box, xlim, ylim, xticks, yticks, head_x, head_y, values):
    left, top, right, bottom = box
    ax = fig.add_axes([left / W, 1 - bottom / H, (right - left) / W, (bottom - top) / H])
    sns.scatterplot(data=to_frame(layers), x="x", y="y", hue="cluster", palette=colors, s=50,
                    linewidth=0, legend=False, ax=ax, clip_on=False)
    ax.set_xlim(xlim)
    ax.set_ylim(ylim)
    ax.set_xticks(xticks)
    ax.set_yticks(yticks)
    ax.set_xlabel("")
    ax.set_ylabel("")
    sns.despine(ax=ax)
    for side in ["left", "bottom"]:
        ax.spines[side].set_color("#404040")
        ax.spines[side].set_linewidth(0.9)
    ax.tick_params(direction="in", length=3.5, width=0.8, color="#404040", labelcolor="#404040",
                   labelsize=18, left=True, bottom=True)
    ax.tick_params(axis="x", pad=14)
    ax.tick_params(axis="y", pad=6)
    ax.xaxis.set_major_formatter(lambda v, p: f"{int(v)}")
    ax.yaxis.set_major_formatter(lambda v, p: f"{int(v)}")
    for x, head, val in zip(head_x, stats_head, values):
        fig.text(x / W, 1 - head_y[0] / H, head, fontsize=17, va="center", color="black")
        fig.text(x / W, 1 - head_y[1] / H, val, fontsize=17, va="center", color="black")


def serif(x, y, text, ha="left", size=17.3):
    fig.text(x / W, 1 - y / H, text, ha=ha, va="center", fontsize=size, family="Liberation Serif", color="black")


fig = plt.figure(figsize=(W / 100, H / 100), dpi=100)

rna_lim = ((-6.88, 18.56), (-7.17, 18.3))
atac_lim = ((-7.6, 8.78), (-7.59, 14.1))
panel(seurat_rna, (323, 87, 665, 450), *rna_lim, [-5, 0, 5, 10, 15], [-5, 0, 5, 10, 15],
      [334, 440, 525, 610], (104, 134), stats_seurat_rna)
panel(screg_rna, (772, 87, 1114, 450), *rna_lim, [-5, 0, 5, 10, 15], [-5, 0, 5, 10, 15],
      [783, 889, 974, 1059], (104, 134), stats_screg_rna)
panel(seurat_atac, (323, 589, 665, 951), *atac_lim, [-5, 0, 5], [-5, 0, 5, 10],
      [340, 457, 542, 627], (610, 643), stats_seurat_atac)
panel(screg_atac, (772, 589, 1114, 951), *atac_lim, [-5, 0, 5], [-5, 0, 5, 10],
      [789, 906, 991, 1076], (610, 643), stats_screg_atac)

serif(294, 21, "Colored by Seurat V4 Clustering .")
serif(742, 21, "Colored by scREG Clustering")
serif(186, 216, "Cell Ranger", ha="right")
serif(186, 242, "RNA  embedding", ha="right")
serif(186, 733, "Cell Ranger", ha="right")
serif(186, 761, "ATAC embedding", ha="right")

fig.savefig("out.png", dpi=100)
